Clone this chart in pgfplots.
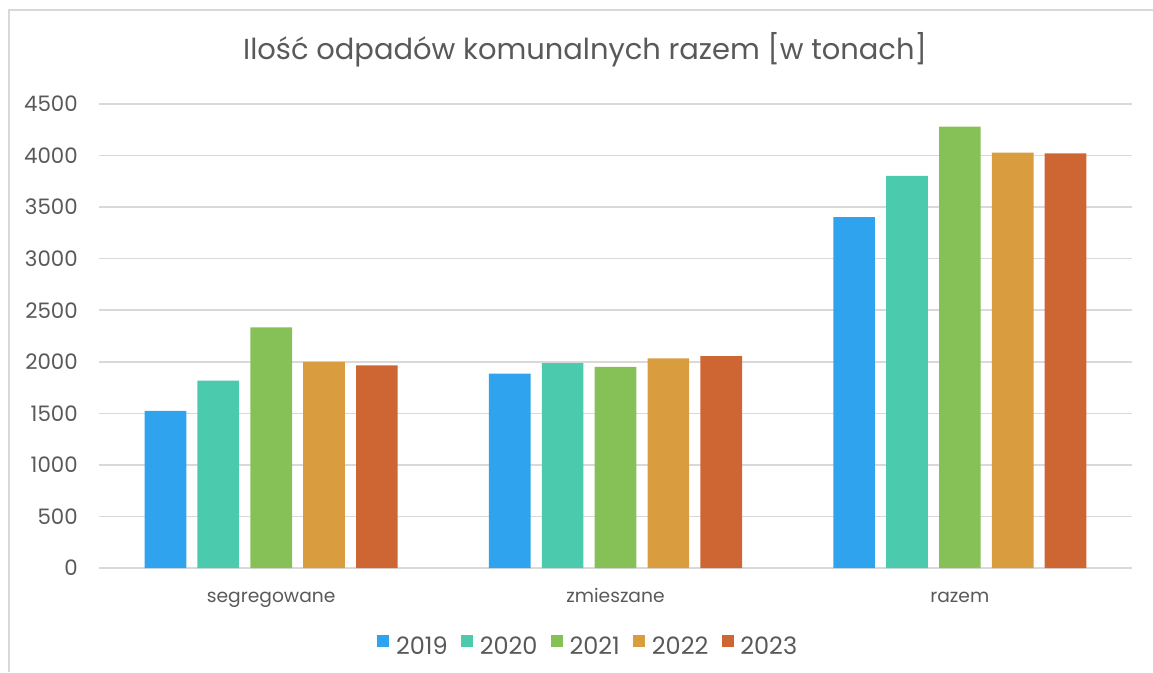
\documentclass[border=0pt]{standalone}
\usepackage{fontspec}
\setmainfont{Poppins}
\usepackage{pgfplots}
\pgfplotsset{compat=1.18}
\definecolor{c2019}{HTML}{2FA3EE}
\definecolor{c2020}{HTML}{4BCAAD}
\definecolor{c2021}{HTML}{86C157}
\definecolor{c2022}{HTML}{D99C3F}
\definecolor{c2023}{HTML}{CE6633}
\definecolor{txt}{HTML}{595959}
\definecolor{gridc}{HTML}{D9D9D9}

\begin{document}
\begin{tikzpicture}[x=0.75pt,y=0.75pt]
\useasboundingbox (0,0) rectangle (1153,672);
\draw[gridc,line width=1.1pt] (9,0) -- (9,662) -- (1153,662);
\node[txt,font=\fontsize{21.7}{26}\selectfont] at (585,622) {Ilość odpadów komunalnych razem [w tonach]};
\begin{axis}[
    at={(74.25pt,78pt)}, anchor=south west,
    scale only axis,
    width=774.75pt, height=348pt,
    xmin=-0.5, xmax=2.5,
    ymin=0, ymax=4500,
    ytick={0,500,...,4500},
    xtick={0,1,2},
    xticklabels={segregowane,zmieszane,razem},
    axis line style={draw=none},
    major tick length=0pt,
    ymajorgrids,
    grid style={gridc, line width=1.1pt},
    tick label style={text=txt},
    /pgf/number format/assume math mode=true,
    /pgf/number format/1000 sep={},
    yticklabel style={font=\fontsize{16}{19}\selectfont, anchor=east, inner sep=0pt, xshift=-15.75pt},
    xticklabel style={font=\fontsize{14}{17}\selectfont, anchor=base, inner sep=0pt, yshift=-25.5pt},
    legend style={at={(0.474,-0.17)}, anchor=center, draw=none, fill=none,
        legend columns=-1, font=\fontsize{18}{21}\selectfont, text=txt,
        /tikz/every odd column/.append style={column sep=3pt},
        /tikz/every even column/.append style={column sep=8pt}},
    legend image code/.code={\fill[#1] (0pt,0pt) rectangle (9pt,9pt);},
]
\addplot[ybar, fill=c2019, draw=none, bar width=0.121, bar shift=-0.307] coordinates {(0,1523) (1,1885) (2,3404)};
\addlegendentry{2019}
\addplot[ybar, fill=c2020, draw=none, bar width=0.121, bar shift=-0.1535] coordinates {(0,1817) (1,1988) (2,3802)};
\addlegendentry{2020}
\addplot[ybar, fill=c2021, draw=none, bar width=0.121, bar shift=0] coordinates {(0,2334) (1,1950) (2,4280)};
\addlegendentry{2021}
\addplot[ybar, fill=c2022, draw=none, bar width=0.121, bar shift=0.1535] coordinates {(0,1998) (1,2033) (2,4028)};
\addlegendentry{2022}
\addplot[ybar, fill=c2023, draw=none, bar width=0.121, bar shift=0.307] coordinates {(0,1966) (1,2056) (2,4022)};
\addlegendentry{2023}
\end{axis}
\end{tikzpicture}
\end{document}
